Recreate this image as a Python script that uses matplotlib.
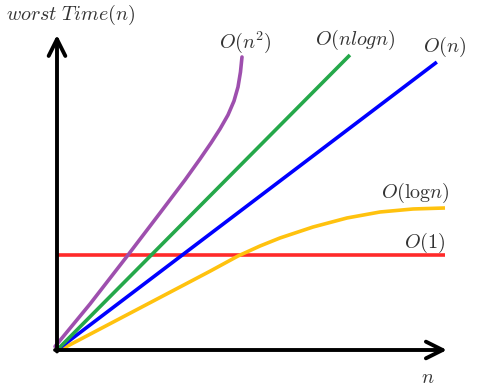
import matplotlib
matplotlib.use("Agg")
import matplotlib.pyplot as plt

plt.rcParams['mathtext.fontset'] = 'cm'

# data (arbitrary units)
n2_x = [-0.05, 0.851, 1.830, 2.655, 3.299, 3.686, 3.969, 4.201, 4.407, 4.562, 4.665, 4.729, 4.768]
n2_y = [0.12, 1.559, 3.220, 4.644, 5.763, 6.475, 7.017, 7.492, 7.966, 8.441, 8.915, 9.424, 9.932]
nlogn_x = [0.0, 7.55]
nlogn_y = [0.0, 10.0]
lin_x = [0.0, 9.79]
lin_y = [0.0, 9.76]
logn_x = [0.077, 1.108, 2.139, 3.170, 3.943, 4.665, 5.232, 5.747, 6.598, 7.474, 8.325, 9.175, 10.0]
logn_y = [0.0, 0.712, 1.424, 2.136, 2.670, 3.186, 3.525, 3.797, 4.169, 4.475, 4.678, 4.780, 4.814]
const_x = [0.0, 10.0]
const_y = [3.22, 3.22]

labels = [r'$O(n^2)$', r'$O(nlogn)$', r'$O(n)$', r'$O(\mathrm{log}n)$', r'$O(1)$']
label_pos = [(4.85, 10.44), (7.68, 10.51), (10.0, 10.27), (9.23, 5.32), (9.48, 3.63)]

fig = plt.figure(figsize=(4.86, 3.89), dpi=100)
ax = fig.add_axes([0, 0, 1, 1])
ax.set_xlim(-1.469, 11.057)
ax.set_ylim(-1.322, 11.864)
ax.axis('off')

lw = 2.6
ax.plot(const_x, const_y, color='#ff2a2a', lw=lw, solid_capstyle='butt')
ax.plot(logn_x, logn_y, color='#ffc20e', lw=lw, solid_capstyle='butt', solid_joinstyle='round')
ax.plot(lin_x, lin_y, color='#0000ff', lw=lw, solid_capstyle='butt')
ax.plot(nlogn_x, nlogn_y, color='#25a84a', lw=lw, solid_capstyle='butt')
ax.plot(n2_x, n2_y, color='#9e4fae', lw=lw, solid_capstyle='round', solid_joinstyle='round')

# axes arrows
for tip, tail in [((0, 10.68), (0, -0.05)), ((10.05, 0), (-0.05, 0))]:
    ax.annotate('', xy=tip, xytext=tail,
                arrowprops=dict(arrowstyle='->', lw=2.8, color='black', mutation_scale=30,
                                shrinkA=0, shrinkB=0, joinstyle='round', capstyle='round'))

tc = '#333333'
for lab, (x, y) in zip(labels, label_pos):
    ax.text(x, y, lab, ha='center', va='center', fontsize=14.5, color=tc)
ax.text(0.34, 11.36, r'$worst\ Time(n)$', ha='center', va='center', fontsize=14.5, color=tc)
ax.text(9.56, -0.92, r'$n$', ha='center', va='center', fontsize=14.5, color=tc)

fig.savefig('out.png', dpi=100)
